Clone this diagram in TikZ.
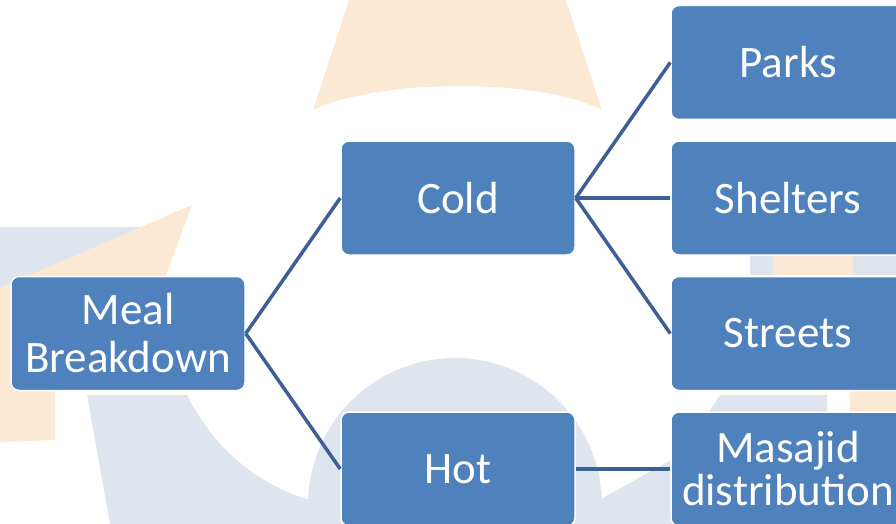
\documentclass[tikz,border=0pt]{standalone}
\usepackage{fontspec}
\setmainfont{Carlito}
\usetikzlibrary{positioning}

\definecolor{boxblue}{RGB}{79,129,189}
\definecolor{linkblue}{RGB}{60,96,150}
\definecolor{markorange}{RGB}{252,233,213}
\definecolor{markgrey}{RGB}{222,229,239}

\begin{document}
\begin{tikzpicture}[x=1pt,y=1pt,on grid,node distance=135.5pt and 330pt,
  main node/.style={rectangle,rounded corners=8pt,fill=boxblue,draw=white,line width=1.5pt,
    minimum width=234pt,minimum height=114pt,text=white,align=center,
    font=\fontsize{45}{48}\selectfont}]

  \tikzstyle{link} = [draw,line width=3.5pt,linkblue]

  \useasboundingbox (0,0) rectangle (896,-524);

  % faded logo behind the chart
  \fill[markorange] (349,0) -- (566,0) -- (602,-110) .. controls (540,-78) and (380,-78) .. (313,-110) -- cycle;
  \fill[markgrey] (0,-227) rectangle (165,-290);
  \fill[markorange] (192,-205) -- (165,-278) -- (55,-390) -- (55,-440) -- (0,-442) -- (0,-288) -- cycle;
  \fill[markgrey] (87,-395) -- (187,-395) .. controls (220,-460) and (270,-490) .. (320,-503) -- (330,-524) -- (110,-524) -- cycle;
  \fill[markgrey] (455,-505) circle (147);
  \fill[markgrey] (590,-505) -- (680,-455) -- (720,-395) -- (827,-395) -- (827,-524) -- (590,-524) -- cycle;
  \fill[markorange] (850,-390) rectangle (896,-412);
  \fill[markgrey] (750,-256) rectangle (896,-275);
  \fill[markorange] (773,-256) rectangle (853,-275);

  \node[main node] (meal) at (128,-333.5) {Meal\\Breakdown};
  \node[main node] (cold) [above right=of meal] {Cold};
  \node[main node] (hot) [below right=of meal] {Hot};
  \node[main node] (parks) [above right=of cold] {Parks};
  \node[main node] (shelters) [right=of cold] {Shelters};
  \node[main node] (streets) [below right=of cold] {Streets};
  \node[main node,font=\fontsize{45}{43}\selectfont] (masajid) [right=of hot] {Masajid\\distribution};

  \path[link]
    (meal.east) edge (cold.west)
                edge (hot.west)
    (cold.east) edge (parks.west)
                edge (shelters.west)
                edge (streets.west)
    (hot.east)  edge (masajid.west);
\end{tikzpicture}
\end{document}
